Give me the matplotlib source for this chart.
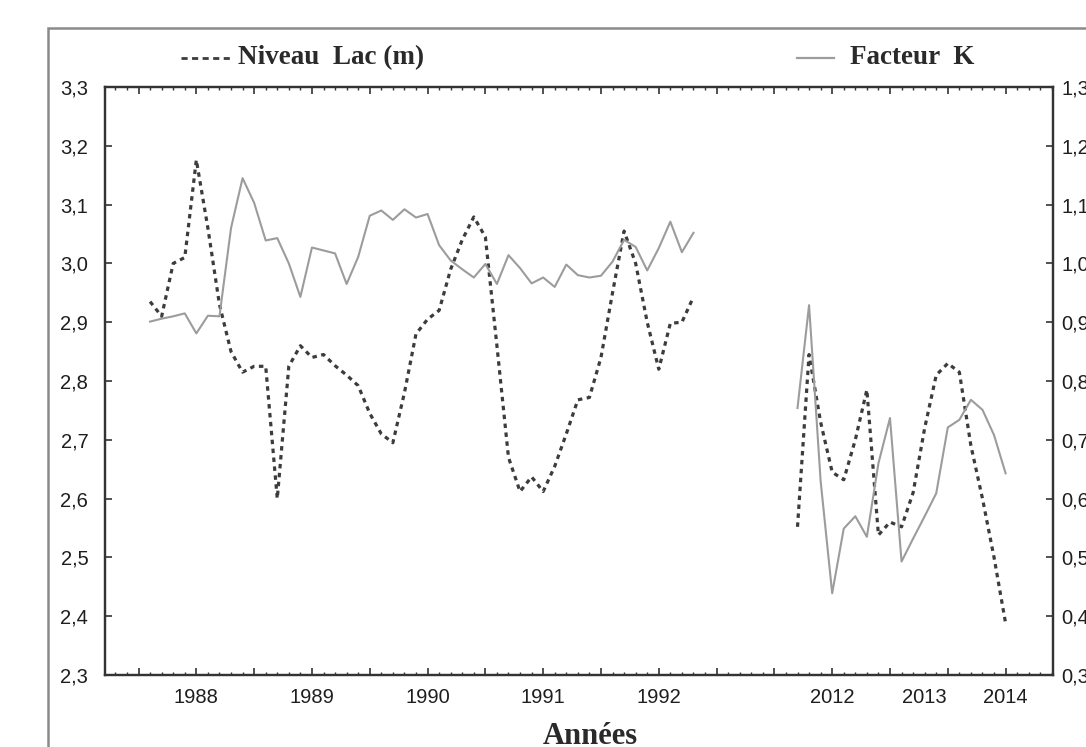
import matplotlib
matplotlib.use("Agg")
import matplotlib.pyplot as plt
from matplotlib.lines import Line2D
from matplotlib.patches import Rectangle
from matplotlib.ticker import FixedLocator, MultipleLocator

# ---- data -------------------------------------------------------------
# x = sample index (one sample per minor tick); two periods 1988-92 and 2012-14
idx_a = list(range(1, 49))
idx_b = list(range(57, 76))

niveau_a = [2.935, 2.91, 3.00, 3.01, 3.176, 3.06, 2.93, 2.85, 2.815, 2.825,
            2.825, 2.60, 2.825, 2.86, 2.84, 2.845, 2.826, 2.81, 2.792, 2.745,
            2.71, 2.695, 2.78, 2.88, 2.905, 2.92, 2.99, 3.04, 3.079, 3.045,
            2.86, 2.67, 2.612, 2.637, 2.612, 2.655, 2.71, 2.768, 2.772, 2.84,
            2.95, 3.055, 3.00, 2.90, 2.82, 2.898, 2.90, 2.943]
niveau_b = [2.552, 2.845, 2.73, 2.645, 2.632, 2.70, 2.785, 2.538, 2.56, 2.552,
            2.61, 2.72, 2.81, 2.83, 2.815, 2.69, 2.60, 2.50, 2.388]

facteur_a = [0.901, 0.906, 0.910, 0.915, 0.881, 0.911, 0.910, 1.060, 1.145, 1.103,
             1.039, 1.043, 1.000, 0.943, 1.027, 1.022, 1.017, 0.965, 1.011, 1.081,
             1.090, 1.074, 1.092, 1.078, 1.084, 1.031, 1.005, 0.990, 0.976, 0.999,
             0.965, 1.014, 0.992, 0.966, 0.976, 0.960, 0.998, 0.980, 0.976, 0.979,
             1.003, 1.040, 1.028, 0.988, 1.026, 1.071, 1.019, 1.052]
facteur_b = [0.754, 0.929, 0.630, 0.439, 0.549, 0.570, 0.535, 0.660, 0.737, 0.493,
             0.532, 0.570, 0.609, 0.721, 0.734, 0.768, 0.751, 0.708, 0.643]

year_labels = ["1988", "1989", "1990", "1991", "1992", "2012", "2013", "2014"]
year_pos = [5, 15, 25, 35, 45, 60, 68, 75]

left_ticks = [2.3, 2.4, 2.5, 2.6, 2.7, 2.8, 2.9, 3.0, 3.1, 3.2, 3.3]
right_ticks = [0.3, 0.4, 0.5, 0.6, 0.7, 0.8, 0.9, 1.0, 1.1, 1.2, 1.3]

label_niveau = "Niveau  Lac (m)"
label_facteur = "Facteur  K"
xlabel = "Années"

# ---- figure -----------------------------------------------------------
W, H = 1086, 747
fig = plt.figure(figsize=(W / 100, H / 100), dpi=100)
fig.patch.set_facecolor("white")

def fx(px):
    return px / W

def fy(py):
    return 1 - py / H

ax = fig.add_axes([fx(105), fy(675), fx(1053) - fx(105), fy(87) - fy(675)])
ax2 = ax.twinx()

dot_color = "#3c3c3c"
sol_color = "#9c9c9c"
txt_color = "#1e1e1e"

for xs, ys in ((idx_a, niveau_a), (idx_b, niveau_b)):
    ax.plot(xs, ys, color=dot_color, lw=2.3, linestyle=(0, (1.4, 1.4)),
            dash_capstyle="butt")
for xs, ys in ((idx_a, facteur_a), (idx_b, facteur_b)):
    ax2.plot(xs, ys, color=sol_color, lw=1.5)

ax.set_xlim(-2.9, 79.1)
ax.set_ylim(2.3, 3.3)
ax2.set_ylim(0.3, 1.3)

# ticks
ax.xaxis.set_major_locator(MultipleLocator(5))
ax.xaxis.set_minor_locator(MultipleLocator(1))
ax.set_xticklabels([])
ax.yaxis.set_major_locator(FixedLocator(left_ticks))
ax.set_yticklabels([f"{v:.1f}".replace(".", ",") for v in left_ticks])
ax2.yaxis.set_major_locator(FixedLocator(right_ticks))
ax2.set_yticklabels([f"{v:.1f}".replace(".", ",") for v in right_ticks])

ax.tick_params(axis="x", which="major", direction="in", length=5, width=1.2,
               top=True, bottom=True, color="#333333")
ax.tick_params(axis="x", which="minor", direction="in", length=2.5, width=1.0,
               top=True, bottom=True, color="#333333")
ax.tick_params(axis="y", which="major", direction="in", length=5, width=1.2,
               left=True, right=False, pad=12, labelsize=14.5, labelcolor=txt_color,
               color="#333333")
ax2.tick_params(axis="y", which="major", direction="in", length=5, width=1.2,
                pad=6, labelsize=14.5, labelcolor=txt_color, color="#333333")
for t in ax.get_yticklabels() + ax2.get_yticklabels():
    t.set_family("Liberation Sans")

for a in (ax, ax2):
    for s in a.spines.values():
        s.set_linewidth(1.6)
        s.set_color("#333333")

for p, lab in zip(year_pos, year_labels):
    ax.text(p, -0.038, lab, transform=ax.get_xaxis_transform(), ha="center",
            va="center", fontsize=14.5, family="Liberation Sans", color=txt_color)

fig.text(fx(590), fy(736), xlabel, ha="center", va="center", fontsize=22,
         family="Liberation Serif", fontweight="bold", color="#2a2a2a")

# legend (top)
fig.add_artist(Line2D([fx(181), fx(232)], [fy(58), fy(58)], color=dot_color,
                      lw=2.0, linestyle=(0, (2.2, 1.6))))
fig.text(fx(238), fy(58), label_niveau, ha="left", va="center", fontsize=19.5,
         family="Liberation Serif", fontweight="bold", color="#2a2a2a")
fig.add_artist(Line2D([fx(797), fx(834)], [fy(58), fy(58)], color=sol_color,
                      lw=1.6))
fig.text(fx(850), fy(58), label_facteur, ha="left", va="center", fontsize=19.5,
         family="Liberation Serif", fontweight="bold", color="#2a2a2a")

# outer frame
fig.add_artist(Rectangle((fx(48), -0.2), 1.5, fy(28) + 0.2, fill=False,
                         edgecolor="#8a8a8a", lw=1.8, transform=fig.transFigure))

fig.savefig("out.png", dpi=100, facecolor="white")
